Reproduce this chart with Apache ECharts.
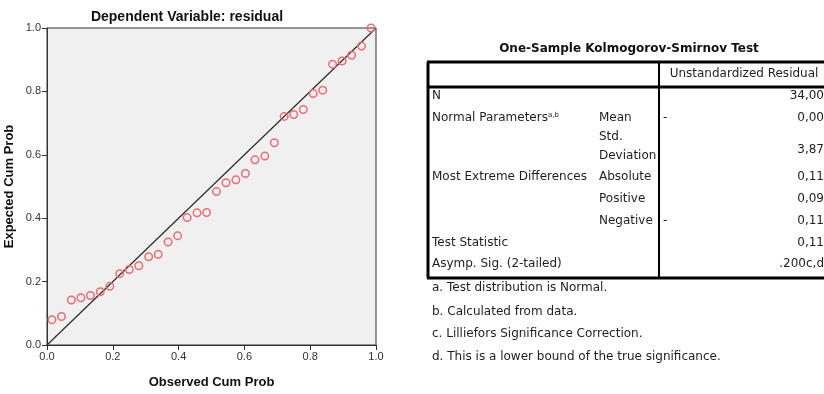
<!DOCTYPE html>
<html>
<head>
<meta charset="utf-8">
<script src="https://cdn.jsdelivr.net/npm/echarts@6/dist/echarts.min.js"></script>
<style>html,body{margin:0;padding:0;background:#fff;}#c{width:824px;height:394px;}</style>
</head>
<body>
<div id="c"></div>
<script>
// ---- P-P plot data ----
const observedCumProb = [0.015,0.044,0.074,0.103,0.132,0.162,0.191,0.221,0.250,0.279,0.309,0.338,0.368,0.397,0.426,0.456,0.485,0.515,0.544,0.574,0.603,0.632,0.662,0.691,0.721,0.750,0.779,0.809,0.838,0.868,0.897,0.926,0.956,0.985];
const expectedCumProb = [0.080,0.090,0.142,0.149,0.156,0.168,0.185,0.225,0.238,0.250,0.278,0.286,0.325,0.345,0.402,0.417,0.418,0.484,0.512,0.521,0.541,0.584,0.596,0.638,0.721,0.727,0.743,0.793,0.804,0.886,0.896,0.914,0.943,1.000];
const axisTicks = [0.0, 0.2, 0.4, 0.6, 0.8, 1.0];
const diagonal = [[0,0],[1,1]];

// ---- K-S table text ----
const tableTitle = 'One-Sample Kolmogorov-Smirnov Test';
const tableHeader = 'Unstandardized Residual';
const rowLabels1 = ['N','Normal Parameters','','','Most Extreme Differences','','','Test Statistic','Asymp. Sig. (2-tailed)'];
const rowLabels2 = ['','Mean','Std.','Deviation','Absolute','Positive','Negative','',''];
const tableValues = ['34,00','0,00','3,87','0,11','0,09','0,11','0,11','.200c,d'];
const valueDashes = ['','-','','','','-','',''];
const footnotes = ['a. Test distribution is Normal.','b. Calculated from data.','c. Lilliefors Significance Correction.','d. This is a lower bound of the true significance.'];

const chart = echarts.init(document.getElementById('c'));
const points = observedCumProb.map((x,i)=>[x, expectedCumProb[i]]);

const tf = '"DejaVu Sans", sans-serif';
const af = '"Liberation Sans", Arial, sans-serif';
const tcol = '#1e1e1e';
const fs = 12;
const g = [];
// table title
g.push({type:'text', x:629, y:49, style:{text: tableTitle, font:'bold 12px ' + tf, fill:'#111', textAlign:'center', textVerticalAlign:'middle'}});
// borders
const L = 428, R = 828, T = 62, HB = 87, B = 278, VX = 659;
function line(x1,y1,x2,y2,w){ g.push({type:'line', shape:{x1,y1,x2,y2}, style:{stroke:'#000', lineWidth:w}}); }
line(L-1, T, R, T, 3);
line(L, T, L, B, 3);
line(L-1, HB, R, HB, 3);
line(L-1, B, R, B, 3);
line(VX, T, VX, B, 2);
line(R, T, R, B, 3);
// header
g.push({type:'text', x:744, y:74, style:{text: tableHeader, font: fs+'px '+tf, fill:tcol, textAlign:'center', textVerticalAlign:'middle'}});
const rowY = [96,118,137,156,177,199,221,243,264];
rowLabels1.forEach((t,i)=>{
  if(!t) return;
  if(i===1){
    g.push({type:'text', x:432, y:rowY[i], style:{text:'{a|'+t+'}{s|a,b}', textVerticalAlign:'middle', rich:{a:{font: fs+'px '+tf, fill:tcol}, s:{font:'7px '+tf, fill:tcol, verticalAlign:'top', padding:[0,0,6,0]}}}});
  } else {
    g.push({type:'text', x:432, y:rowY[i], style:{text:t, font: fs+'px '+tf, fill:tcol, textVerticalAlign:'middle'}});
  }
});
rowLabels2.forEach((t,i)=>{
  if(!t) return;
  g.push({type:'text', x:599, y:rowY[i], style:{text:t, font: fs+'px '+tf, fill:tcol, textVerticalAlign:'middle'}});
});
const valY = [96,118,150,177,199,221,243,264];
tableValues.forEach((t,i)=>{
  g.push({type:'text', x:824, y:valY[i], style:{text:t, font: fs+'px '+tf, fill:tcol, textAlign:'right', textVerticalAlign:'middle'}});
  if(valueDashes[i]) g.push({type:'text', x:663, y:valY[i], style:{text:valueDashes[i], font: fs+'px '+tf, fill:tcol, textVerticalAlign:'middle'}});
});
const fnY = [288,312,334,357];
footnotes.forEach((t,i)=>{
  g.push({type:'text', x:432, y:fnY[i], style:{text:t, font: fs+'px '+tf, fill:tcol, textVerticalAlign:'middle'}});
});
// plot title
g.push({type:'text', x:187, y:17, style:{text:'Dependent Variable: residual', font:'bold 14px ' + af, fill:'#111', textAlign:'center', textVerticalAlign:'middle'}});

const axisCommon = {
  type:'value', min:0, max:1, interval:0.2,
  axisLine:{show:true, lineStyle:{color:'#333', width:1}},
  axisTick:{show:true, length:5, lineStyle:{color:'#333'}},
  splitLine:{show:false},
  nameTextStyle:{fontFamily:af, fontWeight:'bold', fontSize:13, color:'#111'},
  axisLabel:{fontFamily:af, fontSize:11, color:'#333', margin:6, formatter: v => v.toFixed(1)}
};

chart.setOption({
  animation:false,
  grid:{left:47, top:28, right:448, bottom:38, show:true, backgroundColor:'#f0f0f0', borderColor:'#333', borderWidth:1},
  xAxis: Object.assign({}, axisCommon, {name:'Observed Cum Prob', nameLocation:'middle', nameGap:31}),
  yAxis: Object.assign({}, axisCommon, {name:'Expected Cum Prob', nameLocation:'middle', nameGap:31}),
  series:[
    {type:'line', data: diagonal, symbol:'none', lineStyle:{color:'#222', width:1.1}, z:2},
    {type:'scatter', data: points, symbol:'circle', symbolSize:7.5, itemStyle:{color:'rgba(0,0,0,0)', borderColor:'#ee6b6e', borderWidth:1.5, opacity:1}, z:3}
  ],
  graphic: g
});
</script>
</body>
</html>
